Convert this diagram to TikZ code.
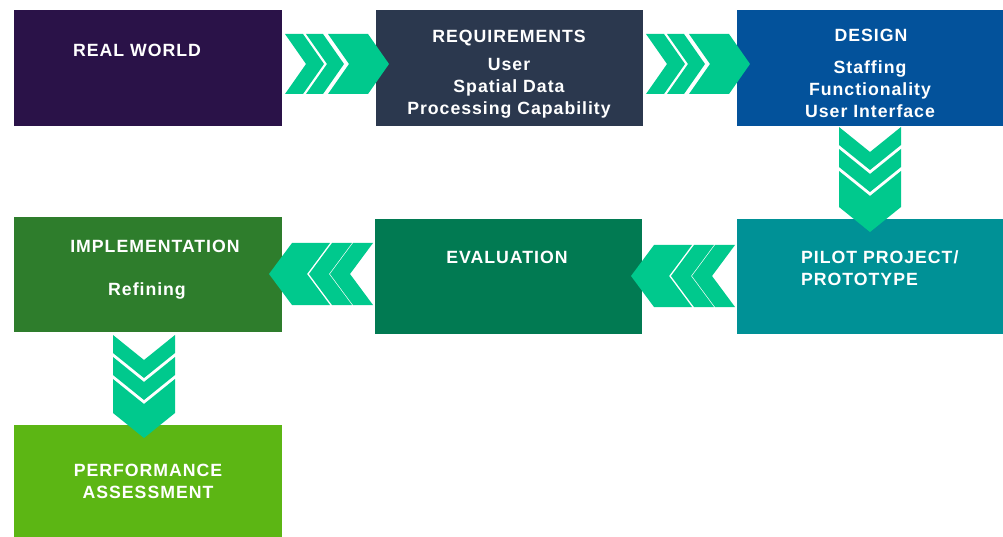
\documentclass[tikz,border=0pt]{standalone}
\usepackage{fontspec}
\setmainfont{Liberation Sans}[LetterSpace=5.5]
\definecolor{cRW}{RGB}{42,18,72}
\definecolor{cREQ}{RGB}{43,56,78}
\definecolor{cDES}{RGB}{3,82,155}
\definecolor{cPIL}{RGB}{0,145,150}
\definecolor{cEVA}{RGB}{1,122,82}
\definecolor{cIMP}{RGB}{46,125,44}
\definecolor{cPER}{RGB}{92,182,20}
\definecolor{cChev}{RGB}{0,201,141}
\newcommand\chevright[3]{\fill[chev] (#1,#3-30) -- (#1+#2,#3-30) -- (#1+#2+21,#3) -- (#1+#2,#3+30) -- (#1,#3+30) -- (#1+21,#3) -- cycle;}
\newcommand\chevleft[3]{\fill[chev] (#1,#3-31) -- (#1-#2,#3-31) -- (#1-#2-23,#3) -- (#1-#2,#3+31) -- (#1,#3+31) -- (#1-23,#3) -- cycle;}
\newcommand\chevdown[3]{\fill[chev] (#3-31,#1) -- (#3,#1+25) -- (#3+31,#1) -- (#3+31,#1+#2) -- (#3,#1+#2+25) -- (#3-31,#1+#2) -- cycle;}
\begin{document}
\begin{tikzpicture}[x=1pt,y=-1pt,
  box/.style={inner sep=0pt, minimum width=#1, draw=none},
  chev/.style={fill=cChev},
  txt/.style={text=white, font=\bfseries\fontsize{17.7}{22}\selectfont, inner sep=0pt, anchor=base}]
\useasboundingbox[fill=white] (0,0) rectangle (1003,537);
% boxes
\node[box=268pt, fill=cRW, minimum height=116pt] (rw) at (148,68) {};
\node[box=267pt, fill=cREQ, minimum height=116pt] (req) at (509.5,68) {};
\node[box=266pt, fill=cDES, minimum height=116pt] (des) at (870,68) {};
\node[box=266pt, fill=cPIL, minimum height=115pt] (pil) at (870,276.5) {};
\node[box=267pt, fill=cEVA, minimum height=115pt] (eva) at (508.5,276.5) {};
\node[box=268pt, fill=cIMP, minimum height=115pt] (imp) at (148,274.5) {};
\node[box=268pt, fill=cPER, minimum height=112pt] (per) at (148,481) {};
% texts
\node[txt] (t1) at (137,57) {REAL WORLD};
\node[txt] (t2) at (509,43) {REQUIREMENTS};
\node[txt] (t3) at (509,71) {User};
\node[txt] (t4) at (509,93) {Spatial Data};
\node[txt] (t5) at (509,115) {Processing Capability};
\node[txt] (t6) at (871,42) {DESIGN};
\node[txt] (t7) at (870,74) {Staffing};
\node[txt] (t8) at (870,96) {Functionality};
\node[txt] (t9) at (870,118) {User Interface};
\node[txt, anchor=base west] (t10) at (801,263) {PILOT PROJECT/};
\node[txt, anchor=base west] (t11) at (801,285) {PROTOTYPE};
\node[txt] (t12) at (507,263) {EVALUATION};
\node[txt] (t13) at (155,252) {IMPLEMENTATION};
\node[txt] (t14) at (147,295) {Refining};
\node[txt] (t15) at (148,476) {PERFORMANCE};
\node[txt] (t16) at (148,498) {ASSESSMENT};
% chevrons
\chevright{285}{18}{64}\chevright{306}{17}{64}\chevright{328}{40}{64}
\chevright{646}{18}{64}\chevright{667}{17}{64}\chevright{689}{40}{64}
\chevdown{127}{18}{870}\chevdown{149}{18}{870}\chevdown{171}{36}{870}
\chevleft{373}{20}{274}\chevleft{352}{20}{274}\chevleft{330}{38}{274}
\chevleft{735}{20}{276}\chevleft{714}{20}{276}\chevleft{692}{38}{276}
\chevdown{335}{18}{144}\chevdown{357}{18}{144}\chevdown{379}{34}{144}
\end{tikzpicture}
\end{document}
